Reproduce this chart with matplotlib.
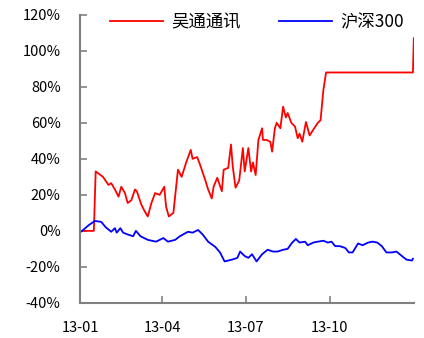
import numpy as np
import pandas as pd
import matplotlib
matplotlib.use("Agg")
import matplotlib.pyplot as plt
import matplotlib.dates as mdates
from matplotlib.ticker import FuncFormatter

plt.rcParams['font.family'] = ['Noto Sans CJK SC', 'DejaVu Sans']

# 数据：距 2013-01-01 的天数, 累计涨幅 %
start = pd.Timestamp("2013-01-01")

wt_days = [0, 14, 15, 17, 25, 31, 34, 38, 42, 45, 49, 52, 56, 60, 62, 67, 71, 74,
           78, 82, 87, 92, 94, 97, 102, 107, 111, 116, 121, 123, 128, 131, 137,
           140, 144, 146, 150, 152, 155, 157, 162, 165, 167, 170, 174, 178, 180,
           184, 187, 189, 192, 195, 199, 200, 204, 208, 210, 213, 215, 219, 222,
           225, 227, 231, 235, 238, 240, 243, 247, 251, 256, 260, 263, 266, 269,
           364, 365]
wt_vals = [0, 0, 0, 33, 30, 25.5, 26.5, 23, 19, 24.5, 21, 15.5, 17, 23, 22, 14.5, 10.5, 8,
           15.5, 21, 20, 24.5, 13.5, 8, 10, 34, 30, 38, 45, 40, 41, 37, 28,
           23, 18, 24.5, 29.5, 26.5, 22, 34, 35, 48, 35.5, 24, 28, 46, 33,
           46, 33, 38, 31, 50.5, 57, 50.5, 50.5, 49.5, 44, 57, 60, 57, 69,
           63, 65.5, 60, 58, 51.5, 54, 49.5, 60.5, 53, 57, 60, 61.5, 78, 88,
           88, 107]

hs_days = [0, 1, 9, 16, 23, 28, 34, 38, 40, 44, 47, 52, 58, 61, 66, 74, 83, 91,
           96, 104, 109, 118, 123, 129, 134, 140, 148, 153, 158, 166, 172, 175,
           180, 184, 188, 193, 199, 205, 211, 216, 222, 227, 232, 236, 240, 246,
           249, 255, 260, 266, 271, 275, 279, 284, 290, 294, 298, 304, 309, 315,
           320, 325, 330, 335, 341, 346, 352, 357, 363, 364]
hs_vals = [0, -0.5, 3, 5.5, 5, 2, -0.5, 1.5, -1, 1.5, -1, -2, -3, 0, -3, -5, -6, -4,
           -6, -5, -3, -0.5, -1, 0.5, -2, -6, -9, -12, -17, -16, -15, -11.5,
           -14, -15, -13, -17, -13, -10.5, -11.5, -11.5, -10.5, -10, -6.5, -4.5, -6.5, -6,
           -8, -6.5, -6, -5.5, -6.5, -6, -8.5, -8.5, -9.5, -12, -12, -7, -8, -6.5,
           -6, -6.5, -8.5, -12, -12, -11.5, -14, -16, -16.5, -15.5]

wt_dates = start + pd.to_timedelta(wt_days, unit="D")
hs_dates = start + pd.to_timedelta(hs_days, unit="D")

fig = plt.figure(figsize=(4.24, 3.38), dpi=100)
ax = fig.add_axes([0.189, 0.104, 0.787, 0.852])

ax.plot(wt_dates, wt_vals, color="#ff0000", lw=1.3, label="吴通通讯")
ax.plot(hs_dates, hs_vals, color="#0000ff", lw=1.3, label="沪深300")

ax.set_ylim(-40, 120)
ax.set_yticks(np.arange(-40, 121, 20))
ax.yaxis.set_major_formatter(FuncFormatter(lambda v, p: f"{int(v)}%"))
ax.set_xlim(start, pd.Timestamp("2014-01-01"))
ax.set_xticks([pd.Timestamp(d) for d in ["2013-01-01", "2013-04-01", "2013-07-01", "2013-10-01"]])
ax.xaxis.set_major_formatter(mdates.DateFormatter("%y-%m"))

for s in ["top", "right"]:
    ax.spines[s].set_visible(False)
for s in ["left", "bottom"]:
    ax.spines[s].set_color("#808080")
    ax.spines[s].set_linewidth(1.5)
ax.tick_params(direction="in", length=5, width=1.2, color="#808080",
               labelsize=10.5, labelcolor="black")
ax.tick_params(axis="y", pad=14)
ax.tick_params(axis="x", pad=13)

ax.legend(loc="center", bbox_to_anchor=(0.606, 0.935), bbox_transform=fig.transFigure,
          ncol=2, frameon=False, handlelength=3.05, columnspacing=2.2,
          handletextpad=0.5, fontsize=12.5)

fig.savefig("out.png", dpi=100)
